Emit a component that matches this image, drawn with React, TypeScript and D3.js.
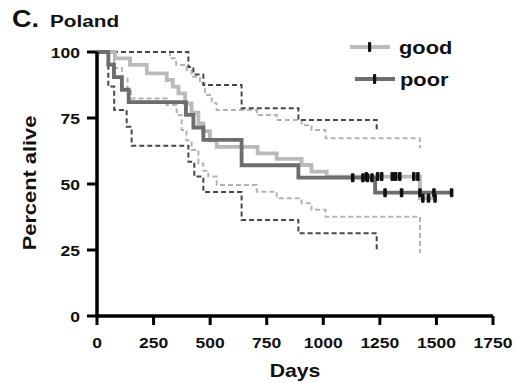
import React from 'react';
import * as d3 from 'd3';

// Kaplan-Meier step points [day, percent alive]
const goodDays = [0, 80, 146, 220, 308, 335, 360, 389, 418, 448, 470, 499, 529, 710, 794, 904, 948, 1015, 1427, 1500];
const goodPct = [100, 97.6, 95.1, 91.9, 89.4, 86.9, 84.3, 80.5, 77, 73, 70, 66.5, 64.1, 61.6, 59.5, 57.2, 54.7, 52.8, 44.6, 44.6];

const poorDays = [0, 50, 75, 110, 140, 393, 426, 470, 639, 890, 1229, 1567];
const poorPct = [100, 95.2, 90.5, 85.7, 81, 76.2, 71.4, 66.7, 57.1, 52.4, 46.7, 46.7];

// 95% confidence bands
const goodUpDays = [0, 323, 350, 396, 418, 455, 477, 507, 529, 706, 794, 904, 948, 1010, 1427];
const goodUpPct = [100, 97.6, 95.1, 93.2, 90.6, 88.1, 83.7, 80.6, 78, 76.1, 74.2, 72.3, 70.5, 67.3, 63.5];
const goodLoDays = [0, 75, 110, 135, 150, 308, 352, 374, 395, 418, 448, 470, 492, 529, 706, 794, 904, 948, 1010, 1427];
const goodLoPct = [100, 93.9, 90, 85.6, 82.4, 79.9, 76.1, 70.5, 66.5, 62.9, 57.8, 55, 52.8, 49.6, 47.1, 44.6, 42.7, 40.2, 37.6, 23.9];

const poorUpDays = [0, 404, 426, 470, 639, 890, 1236];
const poorUpPct = [100, 94.3, 91.5, 87.5, 78.7, 74.2, 69.8];
const poorLoDays = [0, 50, 76, 131, 153, 404, 430, 470, 639, 890, 1236];
const poorLoPct = [100, 86.9, 78, 71.7, 64.5, 58.4, 52.8, 47, 36.4, 31.3, 25];

// censored observations (days)
const goodCensor = [1190, 1240, 1258, 1305, 1320, 1338, 1400, 1418, 1440, 1465, 1494];
const poorCensor = [1130, 1175, 1195, 1215, 1273, 1346, 1427, 1489, 1567];

const xTicks = [0, 250, 500, 750, 1000, 1250, 1500, 1750];
const yTicks = [0, 25, 50, 75, 100];
const legendNames = ['good', 'poor'];

const FONT = '"Liberation Sans", Arial, Helvetica, sans-serif';
const SX = 1.18; // the original lettering is wider than Arial

type Pt = [number, number];
const zip = (a: number[], b: number[]): Pt[] => a.map((d, i) => [d, b[i]]);

const App: React.FC = () => {
  const x = d3.scaleLinear().domain([0, 1750]).range([97, 493]);
  const y = d3.scaleLinear().domain([0, 100]).range([316, 52]);

  const line = d3.line<Pt>()
    .x(d => x(d[0]))
    .y(d => y(d[1]))
    .curve(d3.curveStepAfter);

  const good = zip(goodDays, goodPct);
  const poor = zip(poorDays, poorPct);

  // survival value at a given day (step function lookup)
  const at = (pts: Pt[], day: number) => {
    const i = d3.bisector((p: Pt) => p[0]).right(pts, day) - 1;
    return pts[Math.max(0, i)][1];
  };

  const txt = (tx: number, ty: number, s: string, size: number, anchor = 'start', rot = 0, sx = SX) => (
    <text
      transform={`translate(${tx},${ty}) rotate(${rot}) scale(${sx},1)`}
      textAnchor={anchor}
      style={{ fontFamily: FONT, fontWeight: 'bold', fontSize: size }}
      fill="#111"
    >
      {s}
    </text>
  );

  const colors = ['#bababa', '#6d6d6d'];
  const ciColors = ['#b3b3b3', '#474747'];
  const fmt = d3.format('d');

  return (
    <svg width={518} height={383} style={{ position: 'absolute', left: 0, top: 0, background: '#fff' }}>
      {txt(12, 26.5, 'C.', 23.5, 'start', 0, 1.15)}
      {txt(50, 26.5, 'Poland', 17, 'start', 0, 1.22)}

      {/* confidence bands */}
      <g fill="none" strokeWidth={2} strokeDasharray="5,3">
        <path d={line(zip(goodUpDays, goodUpPct))!} stroke={ciColors[0]} />
        <path d={line(zip(goodLoDays, goodLoPct))!} stroke={ciColors[0]} />
        <path d={line(zip(poorUpDays, poorUpPct))!} stroke={ciColors[1]} />
        <path d={line(zip(poorLoDays, poorLoPct))!} stroke={ciColors[1]} />
      </g>

      {/* survival curves */}
      <path d={line(good)!} fill="none" stroke={colors[0]} strokeWidth={3.8} />
      <path d={line(poor)!} fill="none" stroke={colors[1]} strokeWidth={3.8} />

      {/* censor marks */}
      {goodCensor.map((d, i) => (
        <rect key={'g' + i} x={x(d) - 1.8} y={y(at(good, d)) - 4.5} width={3.6} height={9} rx={1} fill="#111" />
      ))}
      {poorCensor.map((d, i) => (
        <rect key={'p' + i} x={x(d) - 1.8} y={y(at(poor, d)) - 4.5} width={3.6} height={9} rx={1} fill="#111" />
      ))}

      {/* x axis */}
      <g>
        <line x1={x(0)} x2={x(1750)} y1={y(0)} y2={y(0)} stroke="#000" strokeWidth={3.5} />
        {xTicks.map(t => (
          <g key={t}>
            <line x1={x(t)} x2={x(t)} y1={y(0)} y2={y(0) + 9} stroke="#000" strokeWidth={3} />
            {txt(x(t), y(0) + 32, fmt(t), 15.5, 'middle', 0, 1.13)}
          </g>
        ))}
      </g>
      {/* y axis */}
      <g>
        <line x1={x(0)} x2={x(0)} y1={y(100)} y2={y(0) + 1.75} stroke="#000" strokeWidth={3.5} />
        {yTicks.map(t => (
          <g key={t}>
            <line x1={x(0) - 10} x2={x(0)} y1={y(t)} y2={y(t)} stroke="#000" strokeWidth={3} />
            {txt(x(0) - 17, y(t) + 5.5, fmt(t), 15.5, 'end', 0, 1.13)}
          </g>
        ))}
      </g>

      {txt(295, 377, 'Days', 18, 'middle')}
      {txt(36, 183, 'Percent alive', 18.5, 'middle', -90)}

      {/* legend */}
      {legendNames.map((name, i) => {
        const ly = 47 + i * 32;
        const lx = 350 + i * 5;
        return (
          <g key={name}>
            <line x1={lx} x2={lx + 40} y1={ly} y2={ly} stroke={colors[i]} strokeWidth={3.8} />
            <rect x={lx + 18} y={ly - 5} width={3.2} height={10} rx={1} fill="#111" />
            {txt(399 + i, ly + 6.5, name, 18.5)}
          </g>
        );
      })}
    </svg>
  );
};

export default App;
